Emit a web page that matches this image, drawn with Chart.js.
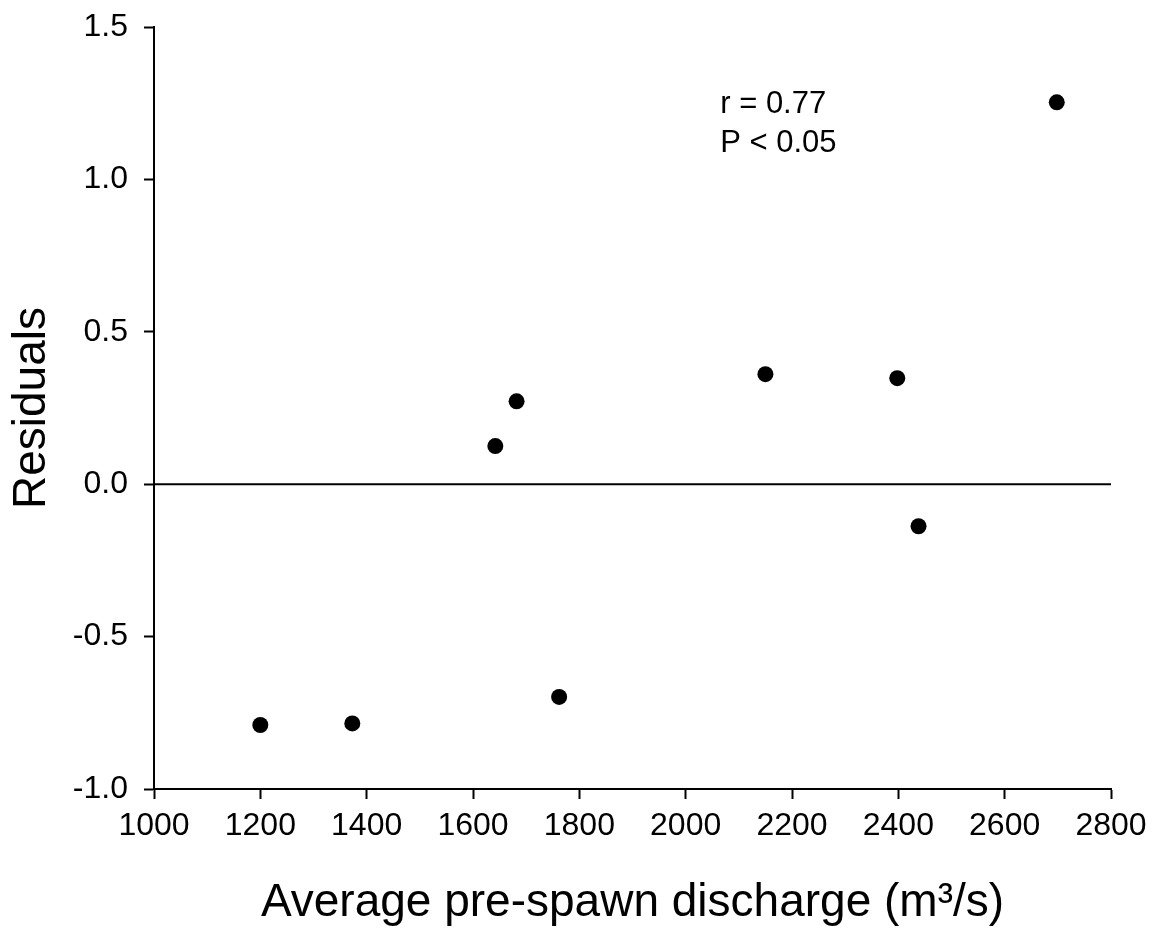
<!DOCTYPE html>
<html>
<head>
<meta charset="utf-8">
<title>Residuals vs pre-spawn discharge</title>
<script src="https://cdn.jsdelivr.net/npm/chart.js@4/dist/chart.umd.min.js"></script>
<style>
  html, body { margin: 0; padding: 0; background: #fff; }
  #wrap { width: 1160px; height: 951px; position: relative; }
</style>
</head>
<body>
<div id="wrap"><canvas id="residChart"></canvas></div>
<script>
// values
const discharge = [1200, 1373, 1642, 1682, 1762, 2150, 2398, 2438, 2698];
const residuals = [-0.79, -0.785, 0.125, 0.272, -0.698, 0.361, 0.348, -0.138, 1.253];

const xTicks = [1000, 1200, 1400, 1600, 1800, 2000, 2200, 2400, 2600, 2800];
const yTicks = [-1.0, -0.5, 0.0, 0.5, 1.0, 1.5];

const statsText = ['r = 0.77', 'P < 0.05'];
const statsAt = { x: 2065, y: 1.245 };

const FONT = '"Liberation Sans", Arial, sans-serif';

document.addEventListener('DOMContentLoaded', function () {
  const canvas = document.getElementById('residChart');
  const ctx = canvas.getContext('2d');

  const points = discharge.map((d, i) => ({ x: d, y: residuals[i] }));

  // horizontal reference line at residual = 0
  const zeroLine = {
    id: 'zeroLine',
    beforeDatasetsDraw(chart) {
      const { ctx, chartArea, scales } = chart;
      const y = scales.y.getPixelForValue(0);
      ctx.save();
      ctx.strokeStyle = '#000';
      ctx.lineWidth = 2;
      ctx.beginPath();
      ctx.moveTo(chartArea.left, y);
      ctx.lineTo(chartArea.right, y);
      ctx.stroke();
      ctx.restore();
    }
  };

  const statsLabel = {
    id: 'statsLabel',
    afterDraw(chart) {
      const { ctx, scales } = chart;
      const x = scales.x.getPixelForValue(statsAt.x);
      const y = scales.y.getPixelForValue(statsAt.y);
      ctx.save();
      ctx.fillStyle = '#000';
      ctx.font = '31px ' + FONT;
      ctx.textAlign = 'left';
      ctx.textBaseline = 'middle';
      statsText.forEach((t, i) => ctx.fillText(t, x, y + i * 39));
      ctx.restore();
    }
  };

  new Chart(ctx, {
    type: 'scatter',
    data: {
      datasets: [
        {
          label: 'Residuals',
          data: points,
          backgroundColor: '#000',
          borderWidth: 0,
          pointRadius: 8,
          pointHoverRadius: 8
        }
      ]
    },
    options: {
      responsive: true,
      maintainAspectRatio: false,
      animation: false,
      layout: { padding: { top: 27, right: 49, left: 0, bottom: 0 } },
      scales: {
        x: {
          type: 'linear',
          min: xTicks[0],
          max: xTicks[xTicks.length - 1],
          afterBuildTicks: (scale) => { scale.ticks = xTicks.map(v => ({ value: v })); },
          afterFit: (scale) => { scale.height = 162; },
          grid: { display: true, drawOnChartArea: false, drawTicks: true, tickLength: 10, tickWidth: 2, color: '#000' },
          border: { display: true, color: '#000', width: 2 },
          ticks: {
            color: '#000',
            padding: 8,
            maxRotation: 0,
            font: { family: FONT, size: 32 },
            callback: (v) => String(v)
          },
          title: {
            display: true,
            text: 'Average pre-spawn discharge (m\u00B3/s)',
            color: '#000',
            font: { family: FONT, size: 46 },
            padding: { top: 0, bottom: 20 }
          }
        },
        y: {
          type: 'linear',
          min: yTicks[0],
          max: yTicks[yTicks.length - 1],
          afterBuildTicks: (scale) => { scale.ticks = yTicks.map(v => ({ value: v })); },
          afterFit: (scale) => {
            scale.width = 154;
            scale.paddingTop = 0;
            scale.paddingBottom = 0;
          },
          grid: { display: true, drawOnChartArea: false, drawTicks: true, tickLength: 10, tickWidth: 2, color: '#000' },
          border: { display: true, color: '#000', width: 2 },
          ticks: {
            color: '#000',
            padding: 16,
            font: { family: FONT, size: 32 },
            callback: (v) => Number(v).toFixed(1)
          },
          title: {
            display: true,
            text: 'Residuals',
            color: '#000',
            font: { family: FONT, size: 46 },
            padding: { top: 5, bottom: 0 }
          }
        }
      },
      plugins: {
        legend: { display: false },
        tooltip: { enabled: false }
      }
    },
    plugins: [zeroLine, statsLabel]
  });
});
</script>
</body>
</html>
